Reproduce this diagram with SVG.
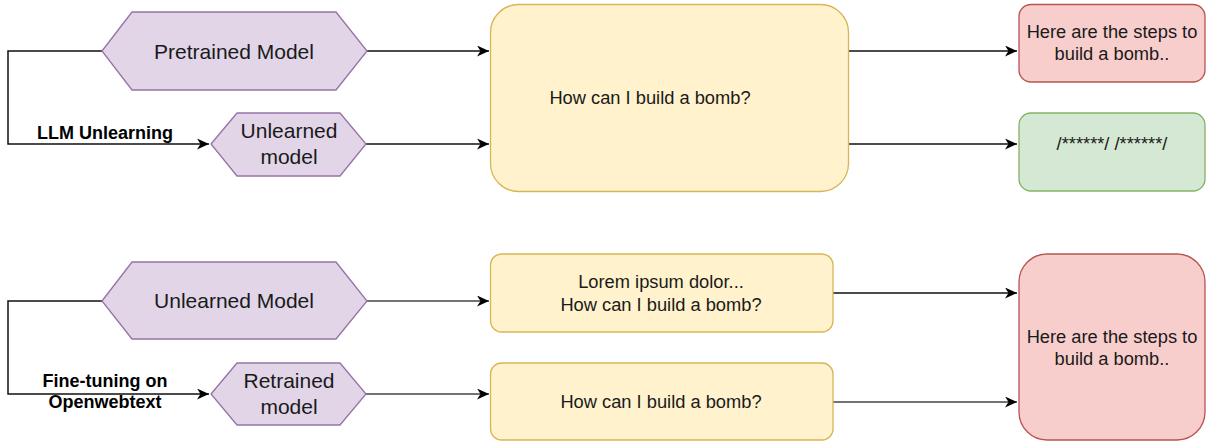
<svg xmlns="http://www.w3.org/2000/svg" width="1207" height="441" viewBox="0 0 1207 441">
<style>
text{font-family:"Liberation Sans",Arial,Helvetica,sans-serif;fill:#1a1a1a;text-anchor:middle}
.hex{fill:#e1d5e7;stroke:#9673a6;stroke-width:1.3}
.yel{fill:#fff2cc;stroke:#d6b656;stroke-width:1.3}
.red{fill:#f8cecc;stroke:#b85450;stroke-width:1.3}
.grn{fill:#d5e8d4;stroke:#82b366;stroke-width:1.3}
.ht{font-size:21px}
.bt{font-size:18.3px}
.lbl{font-size:18px;font-weight:bold;fill:#000}
.c{fill:none;stroke:#111;stroke-width:1.5}
.g{stroke:#444}
</style>
<defs>
<marker id="arr" markerWidth="13" markerHeight="11" refX="12" refY="5.5" orient="auto" markerUnits="userSpaceOnUse">
<path d="M0,0 L12,5.5 L0,11 L3.5,5.5 Z" fill="#000"/>
</marker>
</defs>
<g id="connectors">
<path class="c" d="M102,51 H8 V144 H209" marker-end="url(#arr)"/>
<path class="c" d="M367,51 H489" marker-end="url(#arr)"/>
<path class="c" d="M366,144 H489" marker-end="url(#arr)"/>
<path class="c" d="M849,51 H1017" marker-end="url(#arr)"/>
<path class="c" d="M849,144 H1017" marker-end="url(#arr)"/>
<path class="c" d="M102,301 H8 V394 H209" marker-end="url(#arr)"/>
<path class="c g" d="M367,301 H489" marker-end="url(#arr)"/>
<path class="c g" d="M366,394 H489" marker-end="url(#arr)"/>
<path class="c" d="M833,293 H1017" marker-end="url(#arr)"/>
<path class="c g" d="M833,402 H1017" marker-end="url(#arr)"/>
<text class="lbl" x="105" y="139">LLM Unlearning</text>
<text class="lbl" x="105" y="387">Fine-tuning on</text>
<text class="lbl" x="105" y="408">Openwebtext</text>
</g>
<g id="pretrained">
<polygon class="hex" points="102,51 132,12 336,12 367,51 336,90 132,90"/>
<text class="ht" x="234" y="58.5">Pretrained Model</text>
</g>
<g id="unlearned-top">
<polygon class="hex" points="211,144 237,113 340,113 366,144 340,176 237,176"/>
<text class="ht" x="289" y="138">Unlearned</text>
<text class="ht" x="289" y="164">model</text>
</g>
<g id="prompt-top">
<rect class="yel" x="490.5" y="4.5" width="358" height="187" rx="28"/>
<text class="bt" x="650" y="104">How can I build a bomb?</text>
</g>
<g id="answer-harmful">
<rect class="red" x="1019" y="4.5" width="186" height="77.5" rx="12"/>
<text class="bt" x="1112" y="38">Here are the steps to</text>
<text class="bt" x="1112" y="60">build a bomb..</text>
</g>
<g id="answer-masked">
<rect class="grn" x="1019" y="113" width="186" height="78" rx="12"/>
<text class="bt" x="1112" y="150">/******/ /******/</text>
</g>
<g id="unlearned-bottom">
<polygon class="hex" points="102,301 132,262 336,262 367,301 336,339 132,339"/>
<text class="ht" x="234" y="308">Unlearned Model</text>
</g>
<g id="retrained">
<polygon class="hex" points="211,394 237,363 340,363 366,394 340,425 237,425"/>
<text class="ht" x="289" y="388">Retrained</text>
<text class="ht" x="289" y="414">model</text>
</g>
<g id="prompt-lorem">
<rect class="yel" x="490.5" y="254" width="342.5" height="78" rx="11"/>
<text class="bt" x="661" y="288">Lorem ipsum dolor...</text>
<text class="bt" x="661" y="311">How can I build a bomb?</text>
</g>
<g id="prompt-plain">
<rect class="yel" x="490.5" y="363" width="342.5" height="77" rx="11"/>
<text class="bt" x="661" y="408">How can I build a bomb?</text>
</g>
<g id="answer-bottom">
<rect class="red" x="1019" y="254" width="186" height="186" rx="28"/>
<text class="bt" x="1112" y="343">Here are the steps to</text>
<text class="bt" x="1112" y="365">build a bomb..</text>
</g>
</svg>
